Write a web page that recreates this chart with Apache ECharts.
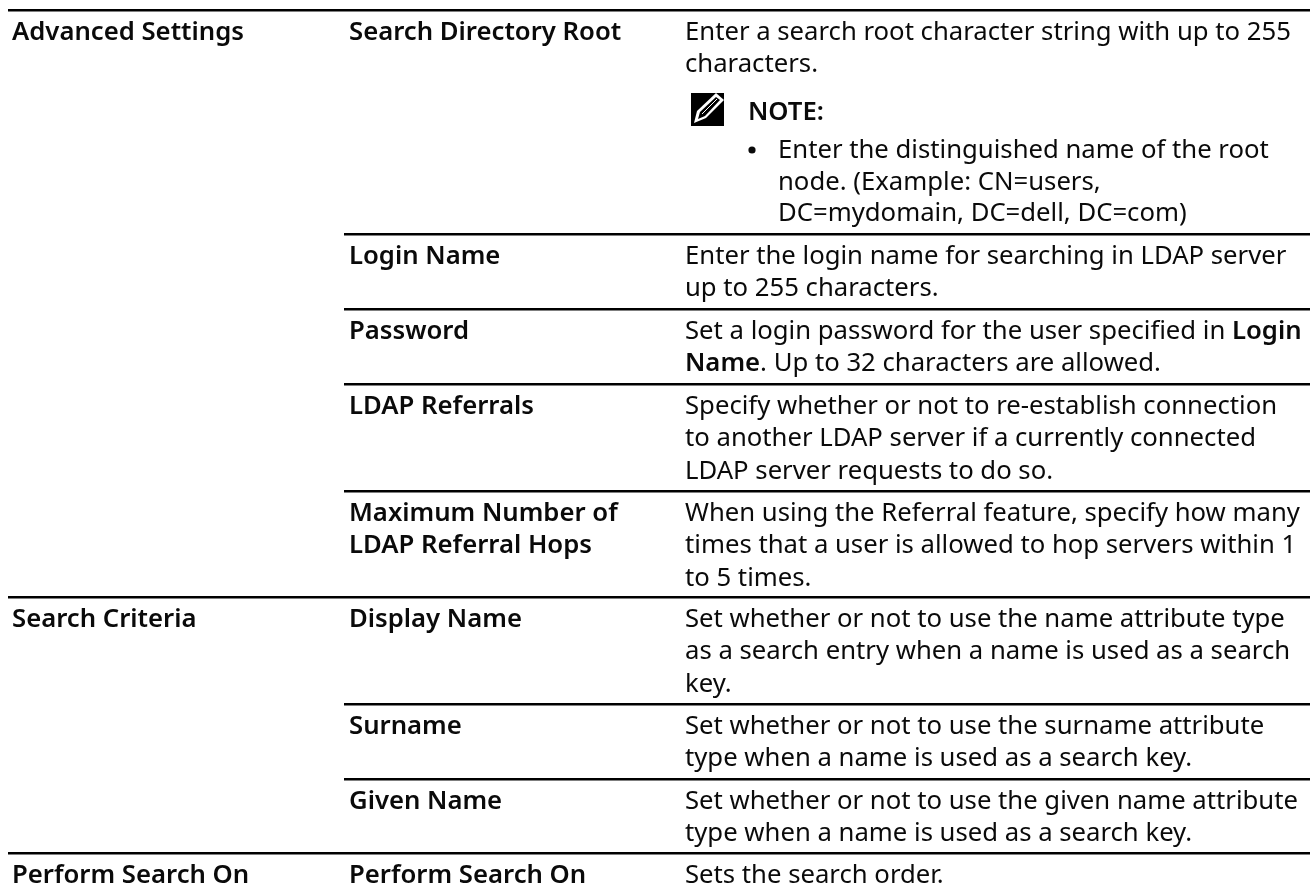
<!DOCTYPE html>
<html><head><meta charset="utf-8">
<style>html,body{margin:0;padding:0;background:#fff}#c{width:1310px;height:892px}</style>
<script src="https://cdn.jsdelivr.net/npm/echarts@6/dist/echarts.min.js"></script>
</head><body><div id="c"></div>
<script>
const sections = ["Advanced Settings","","","","","Search Criteria","","","Perform Search On"];
const labels = [["Search Directory Root"],["Login Name"],["Password"],["LDAP Referrals"],["Maximum Number of","LDAP Referral Hops"],["Display Name"],["Surname"],["Given Name"],["Perform Search On"]];
const descriptions = [
 ["Enter a search root character string with up to 255","characters."],
 ["Enter the login name for searching in LDAP server","up to 255 characters."],
 ["Set a login password for the user specified in {b|Login}","{b|Name}. Up to 32 characters are allowed."],
 ["Specify whether or not to re-establish connection","to another LDAP server if a currently connected","LDAP server requests to do so."],
 ["When using the Referral feature, specify how many","times that a user is allowed to hop servers within 1","to 5 times."],
 ["Set whether or not to use the name attribute type","as a search entry when a name is used as a search","key."],
 ["Set whether or not to use the surname attribute","type when a name is used as a search key."],
 ["Set whether or not to use the given name attribute","type when a name is used as a search key."],
 ["Sets the search order."]
];
const noteTitle = "NOTE:";
const noteLines = ["Enter the distinguished name of the root","node. (Example: CN=users,","DC=mydomain, DC=dell, DC=com)"];
const rowLines = [234,309,384,491,597,704,779,853];

const FONT = "'Noto Sans'", SIZE = 25.7, LH = 32.3, INK = "#0a0a0a", BOLD = 600;
const X1 = 12, X2 = 349, X3 = 685, LEFT = 8, RIGHT = 1310, TOP = 10;
function txt(s,x,y,bold){
  return {type:"text",silent:true,style:{text:s,x:x,y:y,fill:INK,font:(bold?BOLD+" ":"400 ")+SIZE+"px "+FONT,
    verticalAlign:"bottom",
    rich:{b:{fontFamily:FONT,fontWeight:BOLD,fontSize:SIZE,fill:INK}}}};
}
function rule(x1,y){
  return {type:"rect",silent:true,shape:{x:x1,y:y-1,width:RIGHT-x1,height:2.4},style:{fill:"#000"}};
}
const ASC = 7;
function renderRow(params){
  const i = params.dataIndex, top = i===0?TOP:rowLines[i-1], base = top+28.7, kids=[];
  const full = sections[i]!=="" ;
  kids.push(rule(full?LEFT:344,top));
  if(full) kids.push(txt(sections[i],X1,base+ASC,true));
  labels[i].forEach((s,k)=>kids.push(txt(s,X2,base+k*LH+ASC,true)));
  descriptions[i].forEach((s,k)=>kids.push(txt(s,X3,base+k*LH+ASC,false)));
  if(i===0){
    kids.push({type:"rect",silent:true,shape:{x:691,y:93,width:33,height:33},style:{fill:"#000"}});
    kids.push({type:"polygon",silent:true,shape:{points:[[694,123],[697,111],[716,93],[724,100],[706,118]]},style:{fill:"#fff"}});
    kids.push({type:"polygon",silent:true,shape:{points:[[698,119],[700,112],[716,97],[720,100],[705,116]]},style:{fill:"#000"}});
    kids.push({type:"line",silent:true,shape:{x1:702,y1:114,x2:717,y2:99},style:{stroke:"#fff",lineWidth:1}});
    kids.push(txt(noteTitle,748,119+ASC,true));
    kids.push({type:"circle",silent:true,shape:{cx:752,cy:150,r:3.6},style:{fill:INK}});
    noteLines.forEach((s,k)=>kids.push(txt(s,778,157+k*31.5+ASC,false)));
  }
  return {type:"group",children:kids};
}
const chart = echarts.init(document.getElementById("c"),null,{renderer:"canvas"});
chart.setOption({animation:false,backgroundColor:"#fff",
  series:[{type:"custom",coordinateSystem:"none",silent:true,clip:false,renderItem:renderRow,data:labels.map((l,i)=>i)}]});
</script></body></html>
